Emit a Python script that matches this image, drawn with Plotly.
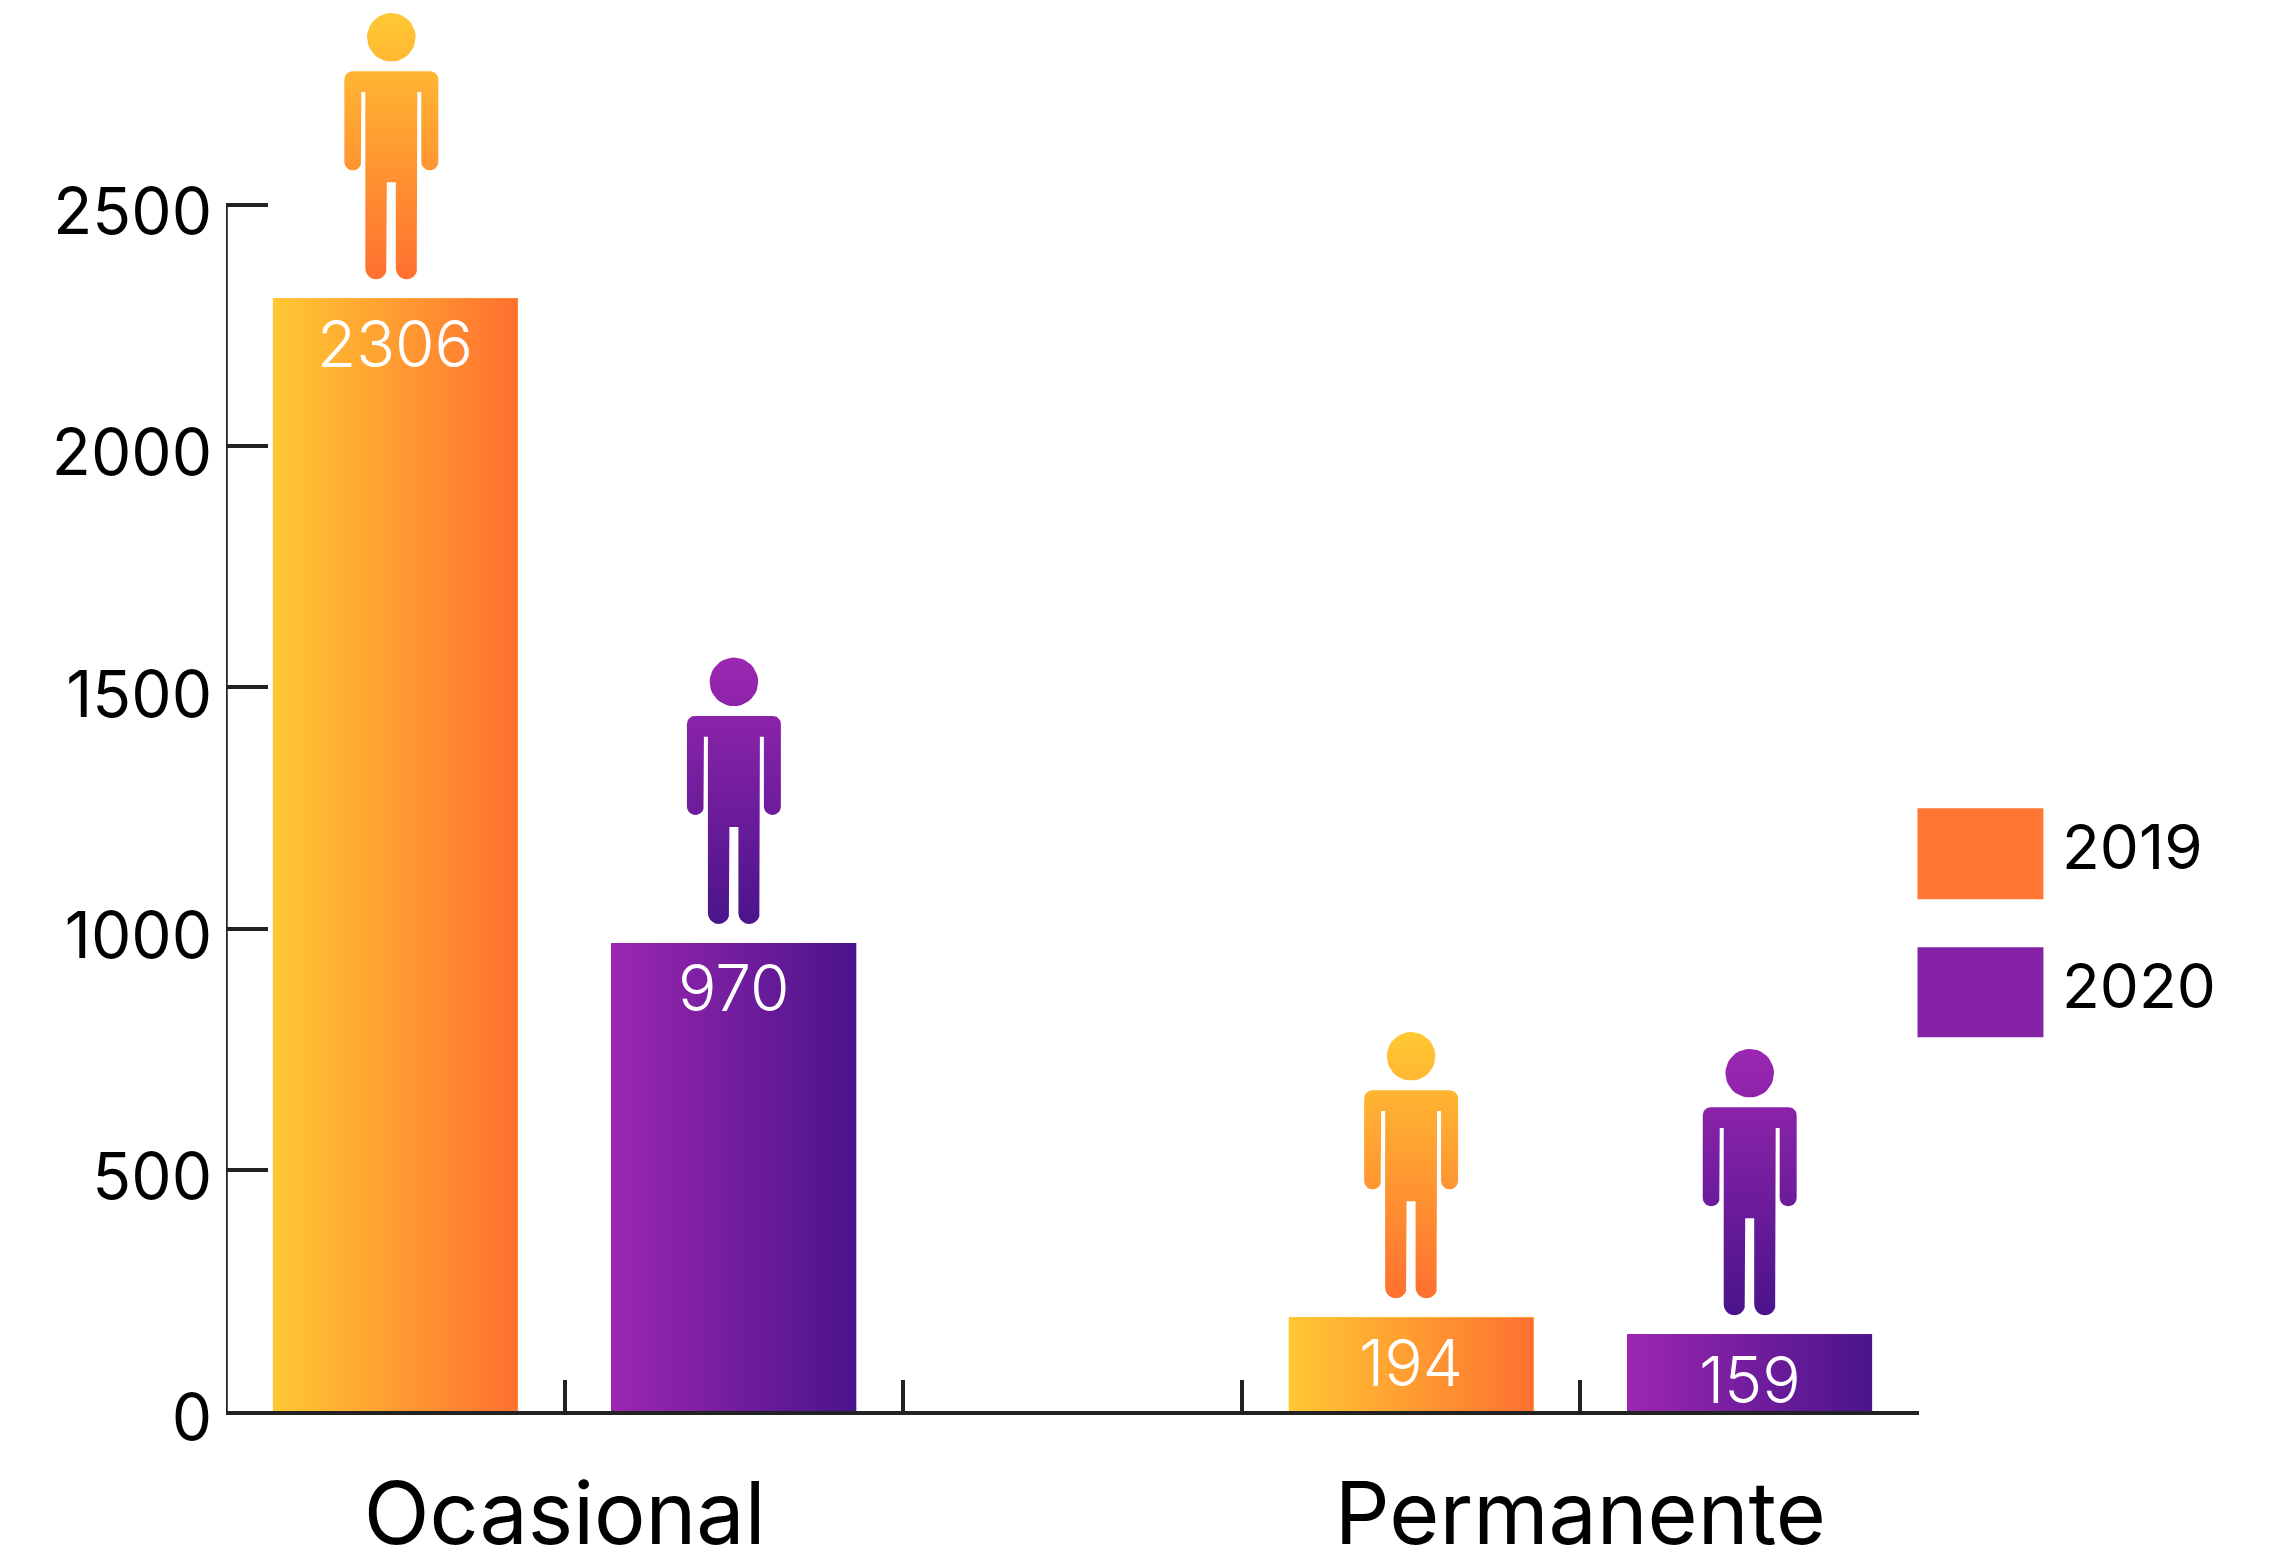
import math
import plotly.graph_objects as go

categories = ["Ocasional", "Permanente"]
group_start = [0, 3]
series_names = ["2019", "2020"]
values_2019 = [2306, 194]
values_2020 = [970, 159]
y_ticks = [0, 500, 1000, 1500, 2000, 2500]

ORANGE = ["#FFC833", "#FF7030"]
PURPLE = ["#9C27B0", "#4A148C"]
LEG = ["#FF7733", "#8521A4"]
FONT = "Inter"
INK = "#000000"
AXIS = "#222222"

W, H = 2274, 1546
L, R, B = 225.5, 1919.5, 1410.7
TICK_TOP = 204.7
X_MAX = 5
UX = X_MAX / (R - L)
UY = 2500 / (B - TICK_TOP)
Y_MAX = B * UY
BAR_W = 245 * UX


def person_outline():
    """Pictogram outline: (dx, dy) pixels from the top-centre of the figure."""
    pts = []

    def arc(cx, cy, r, a0, a1, n=10):
        for i in range(n + 1):
            a = math.radians(a0 + (a1 - a0) * i / n)
            pts.append((cx + r * math.cos(a), cy + r * math.sin(a)))

    r = 8
    arc(-47 + r, 58.3 + r, r, 180, 270)
    arc(47 - r, 58.3 + r, r, 270, 360)
    arc(38.5, 148.8, 8.5, 0, 180)
    pts += [(30, 79), (26, 79)]
    arc(15.25, 255.5, 10.75, 0, 180)
    pts += [(4.5, 169.3), (-4.5, 169.3)]
    arc(-15.25, 255.5, 10.75, 0, 180)
    pts += [(-26, 79), (-30, 79)]
    arc(-38.5, 148.8, 8.5, 0, 180)
    pts.append(pts[0])
    pts.append((None, None))
    arc(0, 24.3, 24.3, 0, 360, 40)
    return pts


OUTLINE = person_outline()
PERSON_H = 266.3
PERSON_GAP = 19

fig = go.Figure()

for name, vals, off, grad in [
    (series_names[0], values_2019, 0.5, ORANGE),
    (series_names[1], values_2020, 1.5, PURPLE),
]:
    xs = [g + off for g in group_start]
    fig.add_trace(go.Bar(x=xs, y=vals, width=BAR_W, name=name, marker=dict(color=grad[0], line_width=0),
                         showlegend=False, hoverinfo="skip"))
    for k, (c, v) in enumerate(zip(xs, vals)):
        x0, x1 = c - BAR_W / 2, c + BAR_W / 2
        fig.add_trace(go.Scatter(
            x=[x0, x1, x1, x0, x0], y=[0, 0, v, v, 0], mode="lines", line_width=0,
            fill="toself", showlegend=False, hovertemplate=f"{categories[k]} {name}: {v}<extra></extra>",
            fillgradient=dict(type="horizontal", colorscale=[[0, grad[0]], [1, grad[1]]], start=x0, stop=x1),
        ))
        nudge = -4 if (off == 0.5 and k == 0) else 0
        top = v + (PERSON_GAP + PERSON_H) * UY
        px = [None if p[0] is None else c + (p[0] + nudge) * UX for p in OUTLINE]
        py = [None if p[1] is None else top - p[1] * UY for p in OUTLINE]
        fig.add_trace(go.Scatter(
            x=px, y=py, mode="lines", line_width=0, fill="toself", showlegend=False, hoverinfo="skip",
            fillgradient=dict(type="vertical", colorscale=[[0, grad[0]], [1, grad[1]]], start=top, stop=top - PERSON_H * UY),
        ))
        fig.add_annotation(x=c, y=v, yshift=-45, text=str(v), showarrow=False, yanchor="middle",
                           font=dict(family=FONT, size=64, color="white", weight=300))


def px_x(p):
    return (p - L) / (R - L)


def px_y(p):
    return (B - p) / B


for name, col, y0, y1 in [(series_names[0], LEG[0], 808, 899), (series_names[1], LEG[1], 947, 1037)]:
    fig.add_shape(type="rect", xref="paper", yref="paper", x0=px_x(1918), x1=px_x(2044), y0=px_y(y1), y1=px_y(y0),
                  fillcolor=col, line_width=0)
    fig.add_annotation(xref="paper", yref="paper", x=px_x(2061), y=px_y((y0 + y1) / 2 - 7), xanchor="left", yanchor="middle",
                       text=name, showarrow=False, font=dict(family=FONT, size=62, color=INK))

# The y axis line stops at the top tick, while the plot area carries on above it
fig.add_shape(type="line", xref="x", yref="y", x0=0, x1=0, y0=0, y1=y_ticks[-1],
              line=dict(color=AXIS, width=3.5))

ticktext = [""] * 6
for g, cat in zip(group_start, categories):
    ticktext[g + 1] = cat

fig.update_layout(
    width=W, height=H, margin=dict(l=L, r=W - R, t=0, b=H - B, autoexpand=False), paper_bgcolor="white",
    plot_bgcolor="white", bargap=0, barmode="overlay", showlegend=False,
    xaxis=dict(range=[0, X_MAX], tickmode="array", tickvals=list(range(6)), ticktext=ticktext,
               ticks="inside", ticklen=31, tickwidth=3.5, tickcolor=AXIS, showline=True, linewidth=4, linecolor=AXIS,
               showgrid=False, zeroline=False, ticklabelstandoff=26,
               tickfont=dict(family=FONT, size=86, color=INK)),
    yaxis=dict(range=[0, Y_MAX], tickmode="array", tickvals=y_ticks, ticktext=[str(t) for t in y_ticks],
               ticks="inside", ticklen=42, tickwidth=3.5, tickcolor=AXIS, showline=False,
               showgrid=False, zeroline=False, ticklabelstandoff=13, ticklabelshift=7,
               tickfont=dict(family=FONT, size=64, color=INK)),
)

fig.write_html("out.html", config={"displayModeBar": False},
               post_script="document.body.style.margin='0';")
